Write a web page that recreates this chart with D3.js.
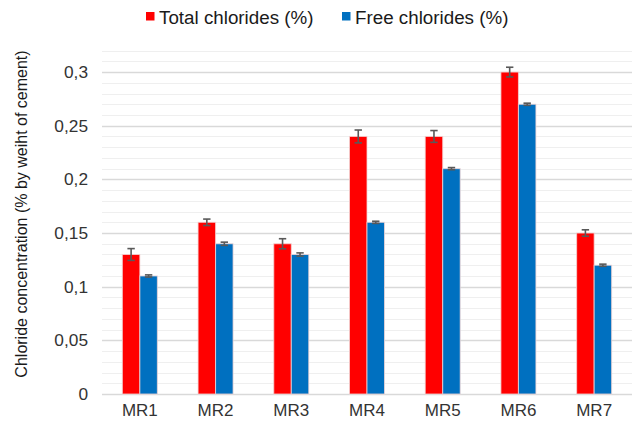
<!DOCTYPE html>
<html><head><meta charset="utf-8">
<script src="https://cdn.jsdelivr.net/npm/d3@7"></script>
<style>body{margin:0;background:#fff;}svg{display:block;font-family:"Liberation Sans",Arial,sans-serif;}</style>
</head><body><svg id="c" width="636" height="425"></svg>
<script>
const categories = ["MR1","MR2","MR3","MR4","MR5","MR6","MR7"];
const seriesNames = ["Total chlorides (%)","Free chlorides (%)"];
const totalValues = [0.13,0.16,0.14,0.24,0.24,0.30,0.15];
const freeValues  = [0.11,0.14,0.13,0.16,0.21,0.27,0.12];
const totalErrors = [0.0055,0.003,0.0047,0.006,0.0055,0.0045,0.003];
const freeErrors  = [0.001,0.0015,0.0015,0.001,0.001,0.001,0.001];
const majorTicks = [0,0.05,0.1,0.15,0.2,0.25,0.3];
const tickLabels = ["0","0,05","0,1","0,15","0,2","0,25","0,3"];
const colors = ["#ff0000","#0070c0"];

const svg = d3.select("#c");
const pL=102, pR=632, pT=50.6, pB=394;
const x = d3.scaleBand().domain(categories).range([pL,pR]);
const y = d3.scaleLinear().domain([0,0.32]).range([pB,pT]);
const barW = 17.5;
const FF = "Liberation Sans, Arial, sans-serif";

// minor grid
const minor = d3.range(1,33).map(i=>i/100).filter(v=>Math.abs(v*20-Math.round(v*20))>1e-6);
svg.append("g").selectAll("line").data(minor).join("line")
  .attr("x1",pL).attr("x2",pR).attr("y1",d=>Math.round(y(d))+0.5).attr("y2",d=>Math.round(y(d))+0.5)
  .attr("stroke","#efefef").attr("stroke-width",1);
// major grid
svg.append("g").selectAll("line").data(majorTicks).join("line")
  .attr("x1",pL).attr("x2",pR).attr("y1",d=>Math.round(y(d))+0.5).attr("y2",d=>Math.round(y(d))+0.5)
  .attr("stroke","#d9d9d9").attr("stroke-width",1.3);

// y axis labels
const yAxis = d3.axisLeft(y).tickValues(majorTicks).tickFormat((d,i)=>tickLabels[i]).tickSize(0).tickPadding(14);
const ya = svg.append("g").attr("transform",`translate(${pL},0)`).call(yAxis);
ya.select(".domain").remove();
ya.selectAll("text").attr("font-size","17.3px").attr("fill","#333").attr("font-family",FF);

// x axis labels
const xAxis = d3.axisBottom(x).tickSize(0).tickPadding(10);
const xa = svg.append("g").attr("transform",`translate(0,${pB})`).call(xAxis);
xa.select(".domain").remove();
xa.selectAll("text").attr("font-size","17px").attr("fill","#333").attr("font-family",FF);

const series = [totalValues, freeValues];
const errs = [totalErrors, freeErrors];
series.forEach((vals,s)=>{
  const g = svg.append("g");
  g.selectAll("rect").data(vals).join("rect")
    .attr("x",(d,i)=>x(categories[i])+x.bandwidth()/2 - barW + s*barW)
    .attr("y",d=>y(d)).attr("width",barW).attr("height",d=>pB-y(d))
    .attr("fill",colors[s]).attr("stroke","#f2d6d6").attr("stroke-opacity",0.8).attr("stroke-width",1);
});
series.forEach((vals,s)=>{
  const eg = svg.append("g").attr("stroke","#595959").attr("stroke-width",1.6);
  vals.forEach((d,i)=>{
    const cx = x(categories[i])+x.bandwidth()/2 - barW/2 + s*barW;
    const e = errs[s][i];
    eg.append("line").attr("x1",cx).attr("x2",cx).attr("y1",y(d+e)).attr("y2",y(d-e));
    eg.append("line").attr("x1",cx-3.7).attr("x2",cx+3.7).attr("y1",y(d+e)).attr("y2",y(d+e));
    eg.append("line").attr("x1",cx-3.7).attr("x2",cx+3.7).attr("y1",y(d-e)).attr("y2",y(d-e));
  });
});

// legend
const legX = [146, 342];
seriesNames.forEach((n,i)=>{
  svg.append("rect").attr("x",legX[i]).attr("y",12).attr("width",8.5).attr("height",8.5).attr("fill",colors[i]);
  svg.append("text").attr("x",legX[i]+13).attr("y",23.5).attr("font-size","18.8px").attr("fill","#1a1a1a").attr("font-family",FF).text(n);
});

// y title
svg.append("text").attr("transform",`translate(27,214) rotate(-90)`)
  .attr("text-anchor","middle").attr("font-size","16px").attr("fill","#1a1a1a").attr("font-family",FF)
  .text("Chloride concentration (% by weiht of cement)");
</script></body></html>
